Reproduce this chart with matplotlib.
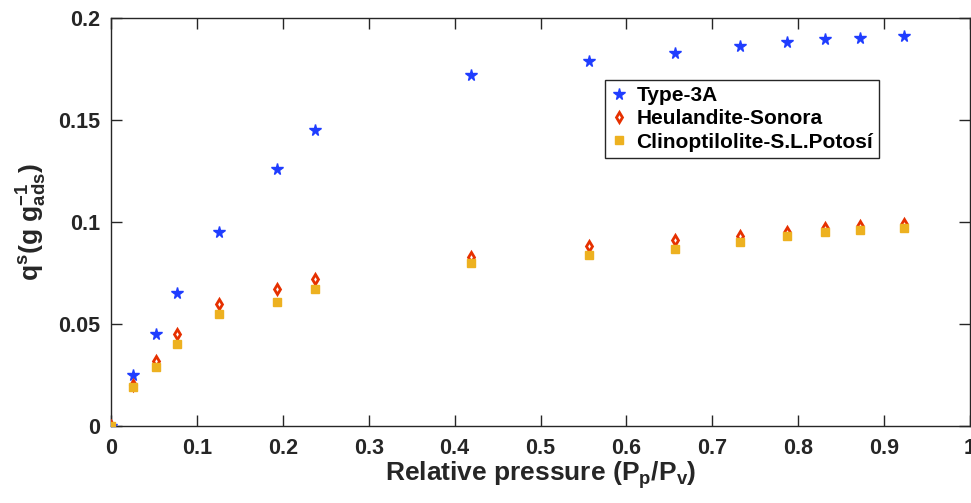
import matplotlib
matplotlib.use("Agg")
import matplotlib.pyplot as plt

plt.rcParams['font.family'] = ['Liberation Sans', 'DejaVu Sans']
plt.rcParams['font.weight'] = 'bold'
plt.rcParams['mathtext.fontset'] = 'custom'
plt.rcParams['mathtext.rm'] = 'Liberation Sans:bold'
plt.rcParams['mathtext.it'] = 'Liberation Sans:bold'
plt.rcParams['mathtext.bf'] = 'Liberation Sans:bold'

# Data
pressure = [0.0, 0.026, 0.052, 0.077, 0.126, 0.193, 0.237, 0.419, 0.557,
            0.657, 0.732, 0.787, 0.831, 0.872, 0.923]
type3a = [0.0, 0.025, 0.045, 0.065, 0.095, 0.126, 0.145, 0.172, 0.179,
          0.183, 0.1865, 0.188, 0.1895, 0.190, 0.191]
heulandite = [0.0, 0.020, 0.032, 0.045, 0.060, 0.067, 0.072, 0.083, 0.088,
              0.091, 0.093, 0.095, 0.097, 0.098, 0.099]
clinoptilolite = [0.0, 0.019, 0.029, 0.040, 0.055, 0.061, 0.067, 0.080, 0.084,
                  0.087, 0.090, 0.093, 0.095, 0.096, 0.097]
series_names = ['Type-3A', 'Heulandite-Sonora', 'Clinoptilolite-S.L.Potosí']
xticks = [0, 0.1, 0.2, 0.3, 0.4, 0.5, 0.6, 0.7, 0.8, 0.9, 1]
xtick_labels = ['0', '0.1', '0.2', '0.3', '0.4', '0.5', '0.6', '0.7', '0.8', '0.9', '1']
yticks = [0, 0.05, 0.1, 0.15, 0.2]
ytick_labels = ['0', '0.05', '0.1', '0.15', '0.2']

fig = plt.figure(figsize=(9.71, 5.03), dpi=100)
ax = fig.add_axes([111/971, 77/503, 859/971, 408/503])

text_color = '#262626'
blue = '#1f3dff'
red = '#e63000'
orange = '#edb120'

ax.plot(pressure, type3a, linestyle='none', marker='*', markersize=8.5,
        color=blue, mec=blue, label=series_names[0], zorder=3)
ax.plot(pressure, heulandite, linestyle='none', marker='d', markersize=5.5,
        mfc='white', mec=red, mew=2.0, label=series_names[1], zorder=4)
ax.plot(pressure, clinoptilolite, linestyle='none', marker='s', markersize=5.5,
        color=orange, mec=orange, label=series_names[2], zorder=5)

ax.set_xlim(0, 1)
ax.set_ylim(0, 0.2)
ax.set_xticks(xticks)
ax.set_xticklabels(xtick_labels)
ax.set_yticks(yticks)
ax.set_yticklabels(ytick_labels)

for s in ax.spines.values():
    s.set_color(text_color)
    s.set_linewidth(1.0)

ax.tick_params(axis='both', direction='in', length=8, width=1.0,
               colors=text_color, labelsize=15.5, top=True, right=True)
ax.tick_params(axis='x', pad=9)
ax.tick_params(axis='y', pad=8)
for lbl in ax.get_xticklabels() + ax.get_yticklabels():
    lbl.set_fontweight('bold')

ax.set_xlabel(r'Relative pressure (P$_\mathrm{p}$/P$_\mathrm{v}$)', fontsize=19,
              fontweight='bold', color=text_color, labelpad=0)
ax.set_ylabel(r'q$^\mathrm{s}$(g g$_\mathrm{ads}^\mathrm{-1}$)', fontsize=19,
              fontweight='bold', color=text_color, labelpad=6)

leg = ax.legend(loc='upper left', bbox_to_anchor=((605-111)/859, (426-80)/408),
                frameon=True, fancybox=False, shadow=False, borderpad=0.3,
                handlelength=0.7, handletextpad=0.5, labelspacing=0.2,
                borderaxespad=0, prop={'weight': 'bold', 'size': 15})
leg.get_frame().set_edgecolor(text_color)
leg.get_frame().set_linewidth(1.0)
leg.get_frame().set_alpha(1)
for t in leg.get_texts():
    t.set_color('black')

fig.savefig('out.png', dpi=100)
